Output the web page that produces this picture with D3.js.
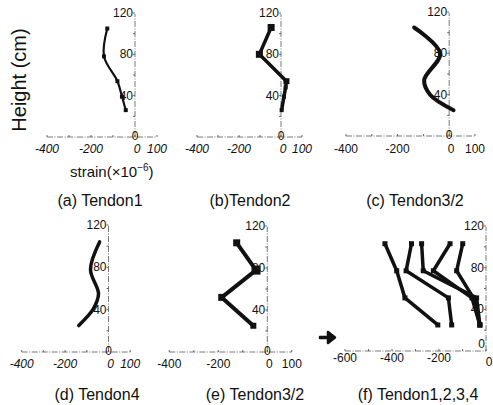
<!DOCTYPE html>
<html><head><meta charset="utf-8">
<script src="https://cdn.jsdelivr.net/npm/d3@7"></script>
<style>body{margin:0;background:#fff}svg{display:block}text{font-family:"Liberation Sans",Arial,sans-serif;fill:#111}</style>
</head><body><svg id="c" width="493" height="405"></svg>
<script>
// ---- data (strain ×10^-6 vs height cm) ----
const heightsA = [105, 78, 54, 39, 26];
const strainA  = [-126, -141, -80, -59, -42];
const heightsB = [106, 80, 54, 48, 39, 26];
const strainB  = [-47, -103, 26, 22, 14, 3];
const heightsC = [105, 80, 54, 40, 25];
const strainC  = [-136, -35, -97, -74, 17];
const heightsD = [104, 78, 55, 40, 25];
const strainD  = [-41, -83, -46, -72, -137];
const heightsE = [104, 78, 52, 25];
const strainE  = [-125, -46, -186, -57];
const heightsF = [103, 77, 51, 25];
const strainF1 = [-430, -380, -345, -205];
const strainF2 = [-317, -340, -160, -146];
const strainF3 = [-274, -267, -40, -26];
const strainF4 = [-153, -224, -60, -26];
const strainF5 = [-99, -125, -54, -26];
const xTicksStd = [-400, -200, 0, 100];
const xTicksF = [-600, -400, -200];
const yTicks = [120, 80, 40];
const titles = ["(a)  Tendon1", "(b)Tendon2", "(c)  Tendon3/2", "(d)  Tendon4", "(e)  Tendon3/2", "(f)  Tendon1,2,3,4"];

const svg = d3.select("#c");

function panel(cfg){
  const x = d3.scaleLinear().domain(cfg.xd).range(cfg.xr);
  const y = d3.scaleLinear().domain([0,120]).range(cfg.yr);
  const g = svg.append("g");
  const ax = x(0);
  // y axis
  g.append("line").attr("x1",ax).attr("x2",ax).attr("y1",y(0)).attr("y2",y(120)+1)
   .attr("stroke","#555").attr("stroke-width",0.8).attr("stroke-dasharray","6,1.5,1,1.5");
  d3.range(20,121,20).forEach(t=>{
    g.append("line").attr("x1",ax-2).attr("x2",ax).attr("y1",y(t)).attr("y2",y(t)).attr("stroke","#444").attr("stroke-width",0.8);
  });
  // x axis
  g.append("line").attr("x1",x(cfg.xd[0])).attr("x2",x(cfg.xd[1])).attr("y1",y(0)).attr("y2",y(0))
   .attr("stroke","#555").attr("stroke-width",0.8).attr("stroke-dasharray","6,1.5,1,1.5");
  d3.range(cfg.xd[0],cfg.xd[1]+1,100).forEach(t=>{
    g.append("line").attr("x1",x(t)).attr("x2",x(t)).attr("y1",y(0)).attr("y2",y(0)-2).attr("stroke","#444").attr("stroke-width",0.8);
  });
  // y tick labels
  yTicks.forEach(t=>{
    g.append("text").attr("x",ax-2).attr("y",y(t)+4).attr("text-anchor","end").attr("font-size",12).text(t);
  });
  if(cfg.zeroX){
    g.append("text").attr("x",ax-1).attr("y",y(0)-3).attr("text-anchor","end").attr("font-size",12).text("0");
    g.append("text").attr("x",ax+3).attr("y",y(0)+15).attr("text-anchor","middle").attr("font-size",12).text("0");
  } else {
    g.append("text").attr("x",ax).attr("y",y(0)+3).attr("text-anchor","middle").attr("font-size",12).text("0");
  }
  // x tick labels
  cfg.xt.forEach(t=>{
    g.append("text").attr("x",x(t)+(t===0?2:0)).attr("y",cfg.xly).attr("text-anchor","middle")
     .attr("font-size",12).attr("font-style",cfg.italic?"italic":"normal").text(t);
  });
  // series
  cfg.series.forEach(s=>{
    const pts = s.h.map((h,i)=>[s.v[i],h]);
    const line = d3.line().x(d=>x(d[0])).y(d=>y(d[1])).curve(cfg.curve||d3.curveLinear);
    g.append("path").attr("d",line(pts)).attr("fill","none").attr("stroke","#111")
     .attr("stroke-width",cfg.sw).attr("stroke-linejoin","round").attr("stroke-linecap","round");
    if(cfg.ms){
      pts.forEach((d,i)=>{
        const m = (cfg.msz && cfg.msz[i]) || cfg.ms;
        g.append("rect").attr("x",x(d[0])-m/2).attr("y",y(d[1])-m/2).attr("width",m).attr("height",m).attr("fill","#111");
      });
    }
  });
  g.append("text").attr("x",cfg.tx).attr("y",cfg.ty).attr("text-anchor","middle").attr("font-size",16).text(cfg.title);
}

panel({xd:[-400,100], xr:[47,157], yr:[137,13], xt:xTicksStd, xly:153, italic:true, sw:2.2, ms:4,
  curve:d3.curveCatmullRom, series:[{h:heightsA,v:strainA}], title:titles[0], tx:100, ty:206});
panel({xd:[-400,100], xr:[197,302], yr:[137,13], xt:xTicksStd, xly:153, italic:true, sw:3.5, ms:4, msz:[7,7,6,4,4,4],
  series:[{h:heightsB,v:strainB}], title:titles[1], tx:250, ty:206});
panel({xd:[-400,100], xr:[346,475], yr:[136,12], xt:xTicksStd, xly:153, italic:false, sw:4,
  curve:d3.curveCatmullRom, series:[{h:heightsC,v:strainC}], title:titles[2], tx:415, ty:206});
panel({xd:[-400,100], xr:[21.7,130.2], yr:[352,225], xt:xTicksStd, xly:368, italic:true, sw:3.5,
  curve:d3.curveCatmullRom, series:[{h:heightsD,v:strainD}], title:titles[3], tx:97, ty:400});
panel({xd:[-400,100], xr:[169.3,291.8], yr:[352,226], xt:xTicksStd, xly:368, italic:false, sw:4, ms:6, msz:[7,9,7,6],
  series:[{h:heightsE,v:strainE}], title:titles[4], tx:255, ty:400});
panel({xd:[-600,0], xr:[345,486], yr:[351,226], xt:xTicksF, xly:362, italic:false, sw:3.5, ms:5, zeroX:true,
  series:[{h:heightsF,v:strainF1},{h:heightsF,v:strainF2},{h:heightsF,v:strainF3},{h:heightsF,v:strainF4},{h:heightsF,v:strainF5}],
  title:titles[5], tx:418, ty:400});

// shared labels
svg.append("text").attr("transform","translate(26,80) rotate(-90)").attr("text-anchor","middle").attr("font-size",20).text("Height (cm)");
const st = svg.append("text").attr("x",70).attr("y",177).attr("font-size",15);
st.append("tspan").text("strain(×10");
st.append("tspan").attr("dy",-6).attr("font-size",10).text("−6");
st.append("tspan").attr("dy",6).text(")");
// arrow
svg.append("path").attr("d","M320,337 L328,337 L328,332 L335,337.5 L328,343 L328,338 L320,338 Z")
  .attr("fill","#111").attr("stroke","#111").attr("stroke-width",2.5).attr("stroke-linejoin","round");
</script></body></html>
